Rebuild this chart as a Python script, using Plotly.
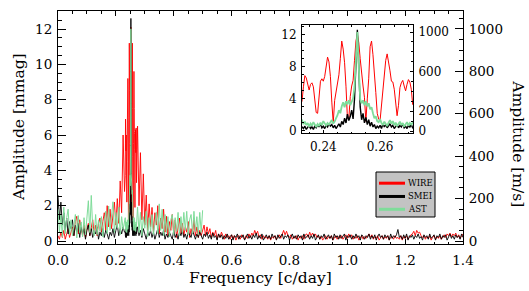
import numpy as np
import plotly.graph_objects as go

# ---------------- data ----------------
# frequency grids [c/day]
freq_low = np.linspace(0.0, 0.23, 47)
freq_fine = np.linspace(0.2325, 0.2715, 79)
freq_high = np.linspace(0.275, 1.4, 226)
freq_ast_high = np.linspace(0.275, 0.5, 46)

# WIRE amplitude [mmag]
wire_low = [0.3, 0.1, 0.5, 0.2, 0.6, 0.1, 0.4, 0.7, 0.2, 0.5,
            0.8, 0.3, 1.1, 1.4, 0.4, 1.2, 0.6, 0.3, 0.9, 0.2,
            0.7, 1.0, 0.3, 0.8, 1.2, 0.4, 0.9, 0.3, 1.0, 1.3,
            0.5, 1.1, 1.6, 0.6, 2.0, 0.8, 1.8, 0.7, 1.7, 2.2,
            0.9, 2.4, 1.0, 3.4, 1.6, 6.0, 2.8]
wire_fine = [3.7, 5.5, 6.9, 6.6, 5.6, 5.1, 5.8, 6.0, 5.5, 3.7,
             2.3, 2.2, 4.5, 6.2, 6.5, 6.2, 6.8, 8.0, 9.2, 8.6,
             6.8, 3.6, 1.0, 3.8, 5.0, 5.6, 7.0, 9.0, 11.2, 10.2,
             8.5, 5.5, 1.6, 1.5, 4.3, 5.6, 6.3, 8.8, 11.2, 12.1,
             11.0, 9.0, 7.0, 5.6, 4.2, 1.2, 4.0, 6.5, 10.5, 11.2,
             9.5, 7.5, 4.8, 2.2, 1.5, 1.3, 3.4, 5.5, 7.3, 8.8,
             9.6, 8.7, 7.5, 6.2, 6.1, 5.2, 3.5, 1.9, 3.2, 5.4,
             6.0, 6.3, 5.6, 5.0, 5.8, 6.4, 6.1, 5.2, 3.3]
wire_high = [6.5, 2.0, 5.0, 1.2, 3.8, 0.9, 2.6, 0.6, 2.1, 0.8,
             1.9, 0.5, 1.6, 0.9, 2.0, 0.4, 1.3, 0.7, 1.8, 0.5,
             1.4, 0.3, 1.1, 0.6, 1.5, 0.4, 1.2, 0.2, 0.9, 1.3,
             0.4, 1.0, 0.3, 0.8, 0.5, 1.1, 0.2, 0.7, 0.4, 1.2,
             0.3, 0.8, 0.2, 0.6, 0.3, 0.7, 0.9, 0.3, 0.8, 0.4,
             0.7, 0.2, 0.5, 0.3, 0.6, 0.1, 0.4, 0.2, 0.5, 0.3,
             0.1, 0.4, 0.2, 0.3, 0.1, 0.35, 0.15, 0.3, 0.05, 0.25,
             0.3, 0.1, 0.35, 0.2, 0.1, 0.3, 0.15, 0.4, 0.2, 0.45,
             0.3, 0.6, 0.4, 0.55, 0.2, 0.35, 0.1, 0.3, 0.15, 0.25,
             0.1, 0.3, 0.05, 0.25, 0.15, 0.3, 0.1, 0.2, 0.35, 0.15,
             0.45, 0.6, 0.35, 0.55, 0.3, 0.2, 0.35, 0.1, 0.25, 0.15,
             0.3, 0.05, 0.25, 0.15, 0.3, 0.1, 0.35, 0.4, 0.2, 0.5,
             0.3, 0.45, 0.25, 0.4, 0.2, 0.3, 0.1, 0.25, 0.05, 0.2,
             0.3, 0.1, 0.25, 0.15, 0.3, 0.05, 0.2, 0.3, 0.1, 0.25,
             0.15, 0.3, 0.1, 0.2, 0.35, 0.15, 0.4, 0.2, 0.35, 0.1,
             0.25, 0.15, 0.3, 0.05, 0.2, 0.3, 0.1, 0.25, 0.15, 0.3,
             0.4, 0.2, 0.35, 0.1, 0.25, 0.15, 0.3, 0.05, 0.2, 0.3,
             0.1, 0.25, 0.15, 0.3, 0.05, 0.2, 0.25, 0.1, 0.3, 0.15,
             0.2, 0.1, 0.3, 0.05, 0.25, 0.15, 0.3, 0.1, 0.2, 0.35,
             0.4, 0.55, 0.3, 0.6, 0.45, 0.5, 0.3, 0.2, 0.3, 0.1,
             0.25, 0.15, 0.3, 0.05, 0.2, 0.3, 0.1, 0.25, 0.15, 0.3,
             0.1, 0.25, 0.35, 0.2, 0.4, 0.3, 0.45, 0.25, 0.4, 0.3,
             0.45, 0.2, 0.35, 0.15, 0.3, 0.4]

# SMEI amplitude [mmag]
smei_low = [2.6, 1.2, 2.2, 0.9, 1.6, 0.6, 1.3, 0.4, 1.1, 0.7,
            1.2, 0.3, 0.9, 0.5, 1.0, 0.2, 0.8, 0.4, 0.7, 0.1,
            0.6, 0.9, 0.3, 0.7, 0.2, 0.6, 0.4, 0.8, 0.1, 0.5,
            0.3, 0.7, 0.2, 0.6, 0.4, 0.1, 0.5, 0.3, 0.7, 0.2,
            0.6, 0.9, 0.3, 0.7, 0.4, 0.8, 0.5]
smei_fine = [0.5, 0.3, 0.6, 0.2, 0.4, 0.7, 0.3, 0.5, 0.2, 0.6,
             0.4, 0.8, 0.5, 0.9, 0.4, 0.6, 0.3, 0.7, 0.5, 0.9,
             0.6, 0.8, 0.4, 0.7, 0.3, 0.6, 0.9, 0.5, 1.2, 0.8,
             1.6, 1.0, 2.1, 1.3, 1.8, 2.6, 1.5, 4.0, 9.5, 12.6,
             8.0, 3.0, 1.4, 2.2, 1.0, 1.7, 0.8, 1.4, 0.6, 1.1,
             0.5, 0.8, 0.3, 0.6, 0.4, 0.7, 0.3, 0.9, 0.5, 0.8,
             0.4, 0.6, 0.9, 0.5, 0.7, 0.3, 0.6, 0.8, 0.4, 0.7,
             0.5, 0.9, 0.4, 0.6, 0.3, 0.7, 0.5, 0.8, 0.4]
smei_high = [0.8, 0.3, 0.6, 0.2, 0.7, 0.4, 0.1, 0.5, 0.3, 0.6,
             0.2, 0.5, 0.1, 0.4, 0.7, 0.2, 0.5, 0.3, 0.6, 0.1,
             0.4, 0.2, 0.5, 0.3, 0.1, 0.6, 0.2, 0.4, 0.1, 0.5,
             0.3, 0.6, 0.2, 0.4, 0.1, 0.5, 0.3, 0.2, 0.6, 0.3,
             0.1, 0.4, 0.2, 0.5, 0.3, 0.1, 0.4, 0.25, 0.5, 0.15,
             0.35, 0.1, 0.45, 0.2, 0.3, 0.05, 0.4, 0.2, 0.35, 0.1,
             0.3, 0.15, 0.4, 0.1, 0.25, 0.35, 0.05, 0.3, 0.2, 0.4,
             0.1, 0.3, 0.2, 0.35, 0.05, 0.25, 0.4, 0.15, 0.3, 0.1,
             0.35, 0.2, 0.45, 0.1, 0.3, 0.15, 0.4, 0.05, 0.25, 0.35,
             0.15, 0.3, 0.1, 0.4, 0.2, 0.3, 0.05, 0.35, 0.15, 0.25,
             0.4, 0.1, 0.3, 0.2, 0.35, 0.05, 0.25, 0.4, 0.15, 0.3,
             0.1, 0.35, 0.2, 0.3, 0.05, 0.4, 0.15, 0.25, 0.35, 0.1,
             0.3, 0.15, 0.4, 0.05, 0.25, 0.35, 0.1, 0.3, 0.2, 0.4,
             0.1, 0.25, 0.35, 0.15, 0.3, 0.05, 0.4, 0.2, 0.3, 0.1,
             0.35, 0.15, 0.25, 0.4, 0.05, 0.3, 0.2, 0.35, 0.1, 0.3,
             0.15, 0.4, 0.2, 0.3, 0.05, 0.35, 0.25, 0.1, 0.3, 0.2,
             0.4, 0.1, 0.3, 0.15, 0.35, 0.05, 0.25, 0.4, 0.2, 0.3,
             0.1, 0.35, 0.2, 0.3, 0.05, 0.4, 0.15, 0.3, 0.2, 0.35,
             0.65, 0.2, 0.3, 0.1, 0.35, 0.15, 0.4, 0.05, 0.3, 0.2,
             0.35, 0.1, 0.3, 0.2, 0.4, 0.15, 0.25, 0.05, 0.35, 0.2,
             0.3, 0.1, 0.4, 0.15, 0.25, 0.35, 0.05, 0.3, 0.2, 0.4,
             0.1, 0.3, 0.2, 0.35, 0.05, 0.25, 0.4, 0.15, 0.3, 0.1,
             0.35, 0.2, 0.3, 0.1, 0.4, 0.2]

# AST amplitude [m/s]
ast_low = [150, 40, 125, 20, 160, 35, 110, 150, 30, 100,
           25, 85, 125, 15, 120, 40, 90, 20, 110, 30,
           135, 190, 40, 215, 60, 25, 125, 30, 100, 45,
           115, 20, 90, 140, 35, 165, 50, 125, 185, 40,
           135, 60, 160, 30, 115, 55, 110]
ast_fine = [110, 70, 95, 60, 80, 45, 75, 55, 90, 60,
            40, 70, 50, 85, 60, 100, 70, 55, 80, 65,
            90, 110, 75, 95, 130, 160, 210, 180, 250, 290,
            240, 300, 270, 310, 260, 290, 330, 450, 800, 1000,
            650, 320, 280, 310, 260, 300, 250, 280, 220, 240,
            180, 130, 150, 100, 90, 120, 80, 60, 95, 70,
            50, 85, 110, 75, 100, 60, 85, 50, 75, 95,
            60, 80, 45, 70, 90, 55, 80, 65, 85]
ast_high = [160, 40, 135, 25, 115, 60, 140, 20, 110, 45,
            125, 30, 100, 135, 35, 175, 50, 150, 25, 125,
            40, 115, 20, 100, 125, 30, 110, 45, 135, 25,
            115, 40, 135, 50, 140, 30, 100, 125, 35, 140,
            45, 115, 30, 135, 40, 145]

series_names = ["WIRE", "SMEI", "AST"]
series_colors = ["#ff0000", "#000000", "#7fdc9a"]

# ---------------- assemble ----------------
f_all = np.concatenate([freq_low, freq_fine, freq_high])
wire = np.concatenate([wire_low, wire_fine, wire_high])
smei = np.concatenate([smei_low, smei_fine, smei_high])
f_ast = np.concatenate([freq_low, freq_fine, freq_ast_high])
ast = np.concatenate([ast_low, ast_fine, ast_high])

FONT = "DejaVu Serif"
fig = go.Figure()

def add_set(xa, ya_left, ya_right, w_red, w_green, w_black):
    fig.add_trace(go.Scatter(x=f_all, y=wire, mode="lines", xaxis=xa, yaxis=ya_left,
                             line=dict(color=series_colors[0], width=w_red),
                             name=series_names[0], showlegend=False, hoverinfo="skip"))
    fig.add_trace(go.Scatter(x=f_ast, y=ast, mode="lines", xaxis=xa, yaxis=ya_right,
                             line=dict(color=series_colors[2], width=w_green),
                             name=series_names[2], showlegend=False, hoverinfo="skip"))
    fig.add_trace(go.Scatter(x=f_all, y=smei, mode="lines", xaxis=xa, yaxis=ya_left,
                             line=dict(color=series_colors[1], width=w_black),
                             name=series_names[1], showlegend=False, hoverinfo="skip"))

add_set("x", "y", "y2", 0.9, 1.0, 0.9)
add_set("x2", "y3", "y4", 1.0, 1.8, 1.4)

axis_common = dict(showline=True, linecolor="black", linewidth=1, ticks="inside",
                   tickcolor="black", tickwidth=1, showgrid=False, zeroline=False,
                   automargin=False,
                   tickfont=dict(family=FONT, size=13.5, color="black"))

inset_common = dict(showline=True, linecolor="black", linewidth=1, ticks="inside",
                    tickcolor="black", tickwidth=1, showgrid=False, zeroline=False,
                    automargin=False,
                    tickfont=dict(family=FONT, size=12, color="black"))

fig.update_layout(
    width=529, height=291,
    margin=dict(l=58, r=66, t=11, b=47),
    paper_bgcolor="white", plot_bgcolor="white",
    showlegend=False,
    xaxis=dict(**axis_common, range=[0, 1.4], dtick=0.2, tick0=0, tickformat=".1f",
               ticklen=5, mirror="ticks", ticklabelstandoff=4,
               minor=dict(dtick=0.05, ticklen=2.5, ticks="inside", tickcolor="black")),
    yaxis=dict(**axis_common, range=[-0.17, 13.02], dtick=2, tick0=0, ticklen=8,
               ticklabelstandoff=2,
               minor=dict(dtick=0.5, ticklen=4, ticks="inside", tickcolor="black")),
    yaxis2=dict(**axis_common, range=[-14, 1084], dtick=200, tick0=0, ticklen=8,
                overlaying="y", side="right", anchor="x", ticklabelstandoff=2,
                minor=dict(dtick=50, ticklen=4, ticks="inside", tickcolor="black")),
    xaxis2=dict(**inset_common, domain=[0.6025, 0.8765], range=[0.2325, 0.2716],
                dtick=0.02, tick0=0, tickformat=".2f", anchor="y3", ticklen=3,
                mirror="ticks", ticklabelstandoff=2,
                minor=dict(dtick=0.005, ticklen=1.5, ticks="inside", tickcolor="black")),
    yaxis3=dict(**inset_common, domain=[0.4747, 0.9399], range=[-0.3, 13.2], dtick=4,
                tick0=0, anchor="x2", ticklen=3, ticklabelstandoff=2,
                minor=dict(dtick=1, ticklen=1.5, ticks="inside", tickcolor="black")),
    yaxis4=dict(**inset_common, range=[-24, 1071], tickvals=[0, 200, 600, 1000],
                overlaying="y3", side="right", anchor="x2", ticklen=3, ticklabelstandoff=2,
                minor=dict(dtick=100, ticklen=1.5, ticks="inside", tickcolor="black")),
)

# axis titles
title_font = dict(family=FONT, size=15.5, color="black")
fig.add_annotation(text="Frequency [c/day]", xref="paper", yref="paper", x=0.5, y=-0.146,
                   xanchor="center", yanchor="middle", showarrow=False, font=title_font)
fig.add_annotation(text="Amplitude [mmag]", xref="paper", yref="paper", x=-0.0975, y=0.5,
                   xanchor="center", yanchor="middle", textangle=-90, showarrow=False,
                   font=title_font)
fig.add_annotation(text="Amplitude [m/s]", xref="paper", yref="paper", x=1.137, y=0.43,
                   xanchor="center", yanchor="middle", textangle=90, showarrow=False,
                   font=title_font)

# legend box (framed key)
fig.add_shape(type="rect", xref="paper", yref="paper", x0=0.7852, x1=0.9309,
              y0=0.1159, y1=0.309, fillcolor="#c3c3c3", line=dict(color="black", width=1),
              layer="above")
legend_rows = [0.2610, 0.2040, 0.1490]
for name, color, yy in zip(series_names, series_colors, legend_rows):
    fig.add_shape(type="line", xref="paper", yref="paper", x0=0.7926, x1=0.8568,
                  y0=yy, y1=yy, line=dict(color=color, width=3), layer="above")
    fig.add_annotation(text=name, xref="paper", yref="paper", x=0.8595, y=yy,
                       xanchor="left", yanchor="middle", showarrow=False,
                       font=dict(family=FONT, size=8.5, color="black"))

fig.write_html("out.html",
               config={"displayModeBar": False, "staticPlot": True},
               post_script="document.body.style.margin='0';document.body.style.overflow='hidden';")
